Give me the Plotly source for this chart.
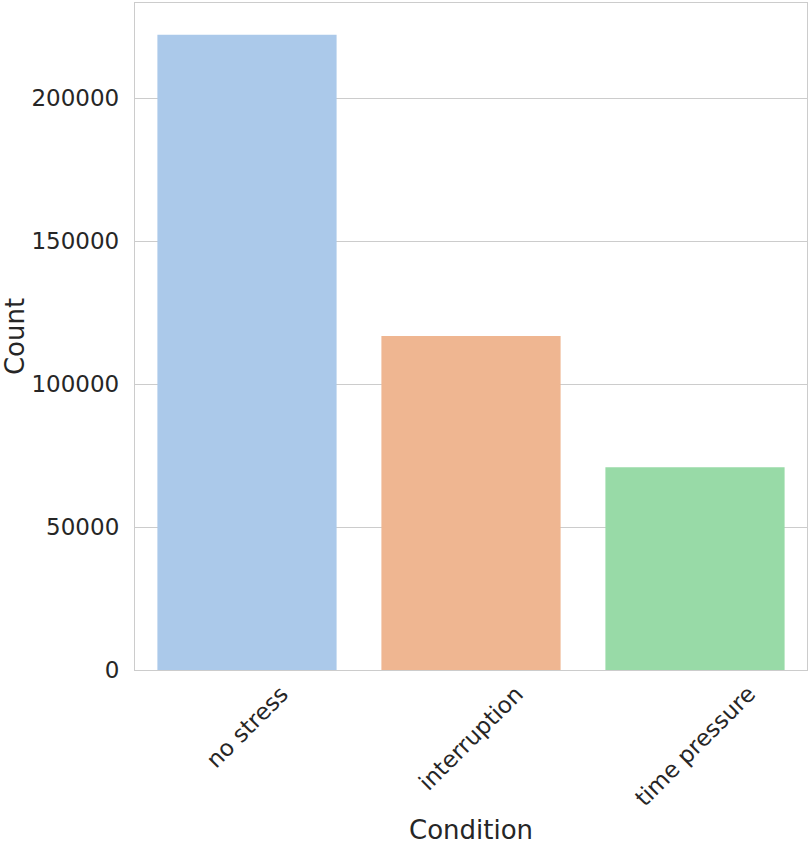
import plotly.graph_objects as go

# ========= data =========
conditions = ["no stress", "interruption", "time pressure"]
counts = [222150, 116800, 70900]
bar_colors = ["#abc9ea", "#efb691", "#98daa7"]

FONT = "DejaVu Sans"
TEXT = "#262626"
GRID = "#cccccc"

fig = go.Figure(go.Bar(
    x=conditions, y=counts,
    marker_color=bar_colors,
    marker_line_width=0,
    width=0.8,
    showlegend=False,
))

# rotated category labels, centred under each bar like matplotlib
for c in conditions:
    fig.add_annotation(
        x=c, y=0, xref="x", yref="paper",
        text=c, textangle=-45, showarrow=False,
        xanchor="center", yanchor="top", yshift=-8,
        font=dict(family=FONT, size=23, color=TEXT),
    )

fig.add_annotation(
    x=0.5, y=0, xref="paper", yref="paper",
    text="Condition", showarrow=False,
    xanchor="center", yanchor="middle", yshift=-160,
    font=dict(family=FONT, size=26, color=TEXT),
)

fig.update_layout(
    width=810, height=844,
    margin=dict(l=135, r=3, t=3, b=174),
    plot_bgcolor="white", paper_bgcolor="white",
    font=dict(family=FONT, color=TEXT),
    bargap=0.2,
)
fig.update_xaxes(
    range=[-0.5, 2.5],
    showticklabels=False, showgrid=False,
    showline=True, linecolor=GRID, linewidth=1.25, mirror=True,
    ticks="",
)
fig.update_yaxes(
    range=[0, max(counts) * 1.05],
    tickvals=[0, 50000, 100000, 150000, 200000],
    ticktext=["0", "50000", "100000", "150000", "200000"],
    tickfont=dict(family=FONT, size=23, color=TEXT),
    showgrid=True, gridcolor=GRID, gridwidth=1.25,
    zeroline=False,
    showline=True, linecolor=GRID, linewidth=1.25, mirror=True,
    ticks="", ticklabelstandoff=10,
    title=dict(text="Count", font=dict(family=FONT, size=26, color=TEXT), standoff=10),
    automargin=False,
)

# page has a default body margin; drop it so the figure sits at 0,0
fig.write_html(
    "out.html",
    config={"displayModeBar": False},
    post_script="document.body.style.margin='0px';",
)
